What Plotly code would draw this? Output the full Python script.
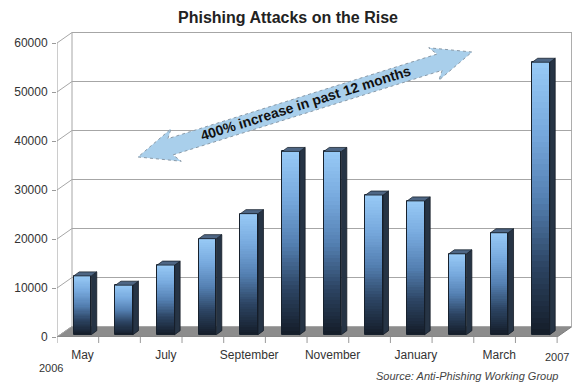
import math
import plotly.graph_objects as go

# ---------------- data ----------------
months = ["May", "June", "July", "August", "September", "October",
          "November", "December", "January", "February", "March", "April"]
attacks = [12000, 10100, 14200, 19600, 24700, 37400,
           37400, 28500, 27300, 16500, 20800, 55600]
x_tick_labels = ["May", "", "July", "", "September", "", "November", "",
                 "January", "", "March", ""]
y_ticks = [0, 10000, 20000, 30000, 40000, 50000, 60000]
y_tick_labels = ["0", "10000", "20000", "30000", "40000", "50000", "60000"]
year_start, year_end = "2006", "2007"
title_text = "Phishing Attacks on the Rise"
arrow_text = "400% increase in past 12 months"
source_text = "Source: Anti-Phishing Working Group"

# ---------------- geometry ----------------
W, H = 576, 383
ML, MR, MT, MB = 57, 4, 32, 46
PW, PH = W - ML - MR, H - MT - MB
X0, X1 = -0.612, 11.745
Y0, Y1 = 0, 62245
ux = PW / (X1 - X0)          # px per x unit
uy = PH / (Y1 - Y0)          # px per y unit
DX = 15 / ux                 # chart depth offset (x units)
DY = 10.5 / uy               # chart depth offset (y units)
BASE = 470                   # bars stand slightly behind the front floor edge
BW = 0.42                    # bar front width
dd = 5.5 / ux                # bar depth
dh = 4.0 / uy

FONT = "Liberation Sans, Arial, sans-serif"
GRID = "#a6a6a6"


def px2paper(px, py):
    return (px - ML) / PW, ((MT + PH) - py) / PH


fig = go.Figure()

# gradient bars (overlaid layers)
N = 48
stops = [(0.0, (20, 28, 40)), (0.25, (44, 68, 98)), (0.5, (84, 128, 178)),
         (0.75, (120, 170, 222)), (1.0, (152, 202, 246))]


def grad(t):
    for (t0, c0), (t1, c1) in zip(stops[:-1], stops[1:]):
        if t0 <= t <= t1:
            a = (t - t0) / (t1 - t0)
            return "rgb(%d,%d,%d)" % tuple(round(c0[i] + (c1[i] - c0[i]) * a) for i in range(3))
    return "rgb(%d,%d,%d)" % stops[-1][1]


xs = list(range(len(months)))
for k in range(N):
    f = 1 - k / N
    fig.add_trace(go.Bar(
        x=xs, y=[v * f for v in attacks], base=BASE, width=BW,
        marker=dict(color=grad(f - 0.5 / N), line=dict(width=0)),
        hoverinfo="skip", showlegend=False))
fig.add_trace(go.Bar(
    x=xs, y=attacks, base=BASE, width=BW,
    marker=dict(color="rgba(0,0,0,0)", line=dict(color="#17212d", width=1)),
    hoverinfo="skip", showlegend=False))

# side faces and top faces
sx, sy, tx, ty = [], [], [], []
for i, v in zip(xs, attacks):
    r = i + BW / 2
    l = i - BW / 2
    top = BASE + v
    sx += [r, r + dd, r + dd, r, r, None]
    sy += [BASE, BASE + dh, top + dh, top, BASE, None]
    tx += [l, r, r + dd, l + dd, l, None]
    ty += [top, top, top + dh, top + dh, top, None]
fig.add_trace(go.Scatter(x=sx, y=sy, mode="lines", fill="toself",
                         fillcolor="#263445", line=dict(color="#141c26", width=0.8),
                         hoverinfo="skip", showlegend=False))
fig.add_trace(go.Scatter(x=tx, y=ty, mode="lines", fill="toself",
                         fillcolor="#4e6684", line=dict(color="#1a2430", width=0.8),
                         hoverinfo="skip", showlegend=False))

shapes = []
# floor
fx1 = X0 + len(months)
shapes.append(dict(type="path", layer="below",
                   path=f"M {X0},{0} L {fx1},{0} L {fx1 + DX},{DY} L {X0 + DX},{DY} Z",
                   xref="x", yref="y", fillcolor="#8c8c8c",
                   line=dict(color="#7a7a7a", width=1)))
# back wall grid lines and side-wall diagonals
for v in y_ticks:
    shapes.append(dict(type="line", layer="below", xref="x", yref="y",
                       x0=X0 + DX, x1=X1, y0=v + DY, y1=v + DY,
                       line=dict(color=GRID, width=1)))
    shapes.append(dict(type="line", layer="below", xref="x", yref="y",
                       x0=X0, x1=X0 + DX, y0=v, y1=v + DY,
                       line=dict(color=GRID, width=1)))
# back wall verticals
shapes.append(dict(type="line", layer="below", xref="x", yref="y",
                   x0=X0 + DX, x1=X0 + DX, y0=DY, y1=y_ticks[-1] + DY,
                   line=dict(color=GRID, width=1)))
shapes.append(dict(type="line", layer="below", xref="x", yref="y",
                   x0=X1 - 0.01, x1=X1 - 0.01, y0=DY, y1=y_ticks[-1] + DY,
                   line=dict(color=GRID, width=1)))
# front axis line
shapes.append(dict(type="line", xref="x", yref="y", x0=X0, x1=X0,
                   y0=0, y1=y_ticks[-1], line=dict(color="#9a9a9a", width=1)))
# front floor edge
shapes.append(dict(type="line", xref="x", yref="y", x0=X0, x1=fx1,
                   y0=0, y1=0, line=dict(color="#8a8a8a", width=1)))
# x category tick marks
for k in range(len(months) + 1):
    xb = X0 + k
    shapes.append(dict(type="line", xref="x", yref="paper", x0=xb, x1=xb,
                       y0=0, y1=-6 / PH, line=dict(color="#9a9a9a", width=1)))

# double-headed arrow (annotation graphic)
P0 = (138, 157)
P1 = (472, 52)
L = math.hypot(P1[0] - P0[0], P1[1] - P0[1])
u = ((P1[0] - P0[0]) / L, (P1[1] - P0[1]) / L)
n = (-u[1], u[0])
s, h, hl = 8.5, 17, 34


def pt(base, a, b):
    return (base[0] + u[0] * a + n[0] * b, base[1] + u[1] * a + n[1] * b)


pts = [P0, pt(P0, hl + 6, h), pt(P0, hl, s), pt(P1, -hl, s), pt(P1, -hl - 6, h), P1,
       pt(P1, -hl - 6, -h), pt(P1, -hl, -s), pt(P0, hl, -s), pt(P0, hl + 6, -h)]
pp = [px2paper(*p) for p in pts]
path = "M " + " L ".join(f"{a:.4f},{b:.4f}" for a, b in pp) + " Z"
shapes.append(dict(type="path", xref="paper", yref="paper", path=path,
                   fillcolor="#a9cfeb", line=dict(color="#8a9aa8", width=1, dash="dot"),
                   layer="above"))

cx, cy = px2paper((P0[0] + P1[0]) / 2 + 1, (P0[1] + P1[1]) / 2 - 1)
ang = -math.degrees(math.atan2(P0[1] - P1[1], P1[0] - P0[0]))


def note(text, px, py, size, color):
    x, y = px2paper(px, py)
    return dict(text=text, x=x, y=y, xref="paper", yref="paper", showarrow=False,
                xanchor="center", yanchor="middle",
                font=dict(family=FONT, size=size, color=color))


annotations = [
    dict(text=f"<b>{arrow_text}</b>", x=cx, y=cy, xref="paper", yref="paper",
         showarrow=False, textangle=ang, font=dict(family=FONT, size=14, color="#111"),
         xanchor="center", yanchor="middle"),
    note(year_start, 51, 368, 11, "#333"),
    note(year_end, 557, 357, 11, "#333"),
    note(f"<i>{source_text}</i>", 467, 376, 11, "#444"),
]

fig.update_layout(
    width=W, height=H, margin=dict(l=ML, r=MR, t=MT, b=MB),
    paper_bgcolor="white", plot_bgcolor="white",
    barmode="overlay", bargap=0,
    title=dict(text=f"<b>{title_text}</b>", x=0.5, xanchor="center", xref="container",
               y=1 - 17 / H, yanchor="middle", yref="container",
               font=dict(family=FONT, size=16, color="#222")),
    shapes=shapes, annotations=annotations,
    xaxis=dict(range=[X0, X1], tickmode="array", tickvals=xs, ticktext=x_tick_labels,
               showgrid=False, zeroline=False, showline=False, ticks="",
               tickfont=dict(family=FONT, size=12, color="#333"), ticklabelstandoff=9,
               fixedrange=True),
    yaxis=dict(range=[Y0, Y1], tickmode="array", tickvals=y_ticks, ticktext=y_tick_labels,
               showgrid=False, zeroline=False, showline=False, ticks="outside",
               ticklen=4, tickcolor="#9a9a9a", ticklabelstandoff=2,
               tickfont=dict(family=FONT, size=12, color="#333"), fixedrange=True),
    font=dict(family=FONT),
)

fig.write_html("out.html", config={"displayModeBar": False},
               post_script="document.body.style.margin='0';document.body.style.padding='0';")
